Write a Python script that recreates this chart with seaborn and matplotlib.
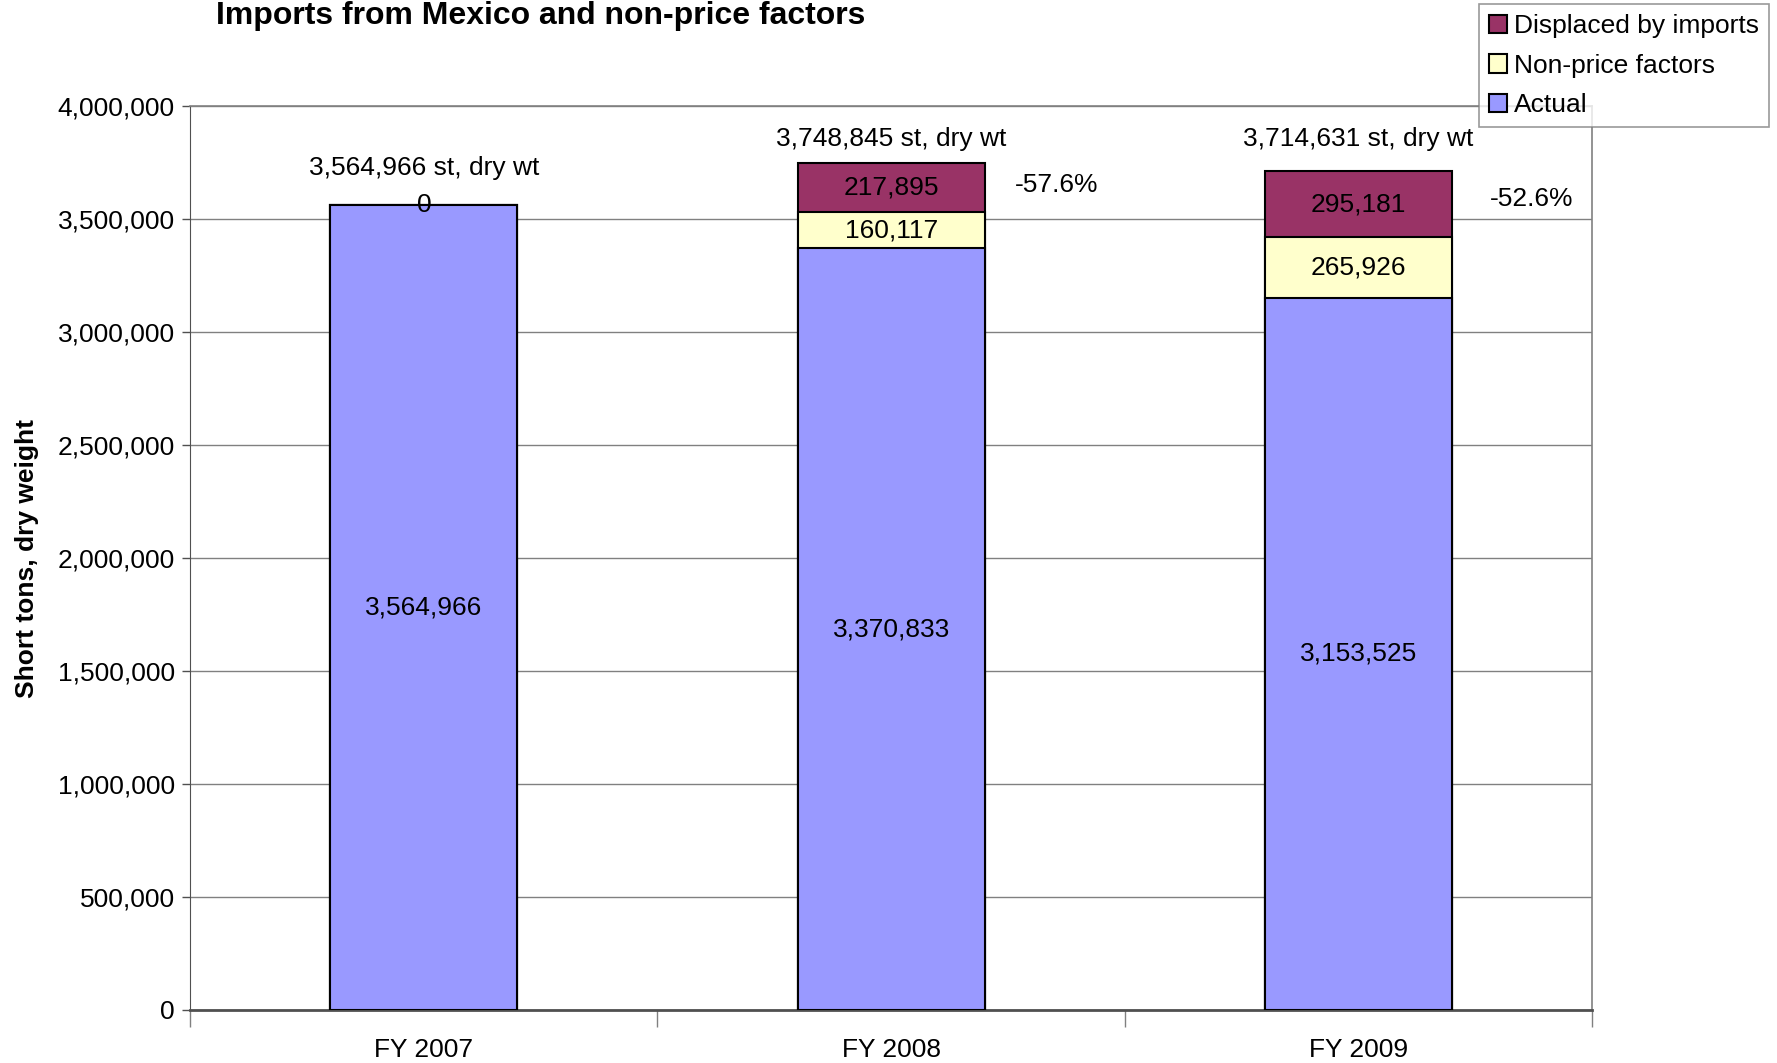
import numpy as np
import pandas as pd
import matplotlib.pyplot as plt
import seaborn as sns
from matplotlib.patches import Patch

# ------------------------------
# Data
# ------------------------------
years = ["FY 2007", "FY 2008", "FY 2009"]
actual = [3564966, 3370833, 3153525]
non_price = [0, 160117, 265926]
displaced = [0, 217895, 295181]
totals = [3564966, 3748845, 3714631]   # as printed on the chart
pct_labels = ["", "-57.6%", "-52.6%"]
y_ticks = [0, 500000, 1000000, 1500000, 2000000, 2500000, 3000000, 3500000, 4000000]

col_actual = "#9999FF"
col_nonprice = "#FFFFCC"
col_displaced = "#993366"

df = pd.DataFrame({"year": years, "actual": actual,
                   "non_price": non_price, "displaced": displaced})
df["mid"] = df["actual"] + df["non_price"]
df["top"] = df["mid"] + df["displaced"]

sns.set_style("white")
plt.rcParams["font.family"] = ["Liberation Sans", "DejaVu Sans"]
plt.rcParams["text.color"] = "black"
plt.rcParams["xtick.color"] = "black"
plt.rcParams["ytick.color"] = "black"
plt.rcParams["axes.labelcolor"] = "black"

FS = 19

fig = plt.figure(figsize=(17.77, 10.63), dpi=100)
ax = fig.add_axes([0.107, 0.050, 0.789, 0.850])

# stacked bars: draw cumulative heights, tallest first
for col, color in [("top", col_displaced), ("mid", col_nonprice), ("actual", col_actual)]:
    sns.barplot(data=df, x="year", y=col, order=years, color=color, width=0.4,
                edgecolor="black", linewidth=1.5, saturation=1, ax=ax, zorder=3)

ax.set_xlim(-0.5, 2.5)
ax.set_ylim(0, 4000000)
ax.set_yticks(y_ticks)
ax.set_yticklabels([f"{v:,}" for v in y_ticks])
ax.grid(axis="y", color="#808080", linewidth=1, zorder=0)
ax.set_axisbelow(True)

for s in ["top", "right"]:
    ax.spines[s].set_color("#808080")
    ax.spines[s].set_linewidth(1.2)
ax.spines["left"].set_color("#505050")
ax.spines["bottom"].set_color("#505050")
ax.spines["bottom"].set_linewidth(2)

ax.tick_params(axis="y", left=True, length=6, width=1, color="#505050", pad=5, labelsize=FS)
ax.tick_params(axis="x", bottom=False, pad=17, labelsize=FS)
ax.set_xticks([-0.5, 0.5, 1.5, 2.5], minor=True)
ax.tick_params(axis="x", which="minor", bottom=True, length=12, width=1, color="#808080")
ax.set_xlabel("")
ax.set_ylabel("Short tons, dry weight", fontsize=FS, fontweight="bold")
ax.yaxis.set_label_coords(-0.108, 0.5)

# segment labels
for i, row in df.iterrows():
    ax.text(i, row["actual"] / 2, f"{row['actual']:,}", ha="center", va="center", fontsize=FS, zorder=5)
    if row["non_price"] > 0:
        ax.text(i, row["actual"] + row["non_price"] / 2, f"{row['non_price']:,}",
                ha="center", va="center", fontsize=FS, zorder=5)
        ax.text(i, row["mid"] + row["displaced"] / 2, f"{row['displaced']:,}",
                ha="center", va="center", fontsize=FS, zorder=5)
    else:
        ax.text(i, row["top"], "0", ha="center", va="center", fontsize=FS, zorder=5)

# total labels above bars
top_offsets = [26, 17, 23]
for i, row in df.iterrows():
    ax.annotate(f"{totals[i]:,} st, dry wt", (i, row["top"]), xytext=(0, top_offsets[i]),
                textcoords="offset points", ha="center", va="center", fontsize=FS)

# percentage labels beside bars
pct_x = [0, 1.355, 2.37]
pct_y = [0, 3650000, 3590000]
for i, lab in enumerate(pct_labels):
    if lab:
        ax.text(pct_x[i], pct_y[i], lab, ha="center", va="center", fontsize=FS)

fig.text(0.3045, 0.977, "Imports from Mexico and non-price factors", ha="center",
         va="baseline", fontsize=23, fontweight="bold")

handles = [Patch(facecolor=col_displaced, edgecolor="black", linewidth=1.5, label="Displaced by imports"),
           Patch(facecolor=col_nonprice, edgecolor="black", linewidth=1.5, label="Non-price factors"),
           Patch(facecolor=col_actual, edgecolor="black", linewidth=1.5, label="Actual")]
leg = fig.legend(handles=handles, loc="upper right", bbox_to_anchor=(0.9955, 0.996),
                 fontsize=FS, frameon=True, fancybox=False, handlelength=0.7, handleheight=0.7,
                 handletextpad=0.25, borderpad=0.38, labelspacing=0.59, borderaxespad=0)
leg.get_frame().set_edgecolor("#808080")
leg.get_frame().set_linewidth(1.2)

fig.savefig("out.png", dpi=100)
